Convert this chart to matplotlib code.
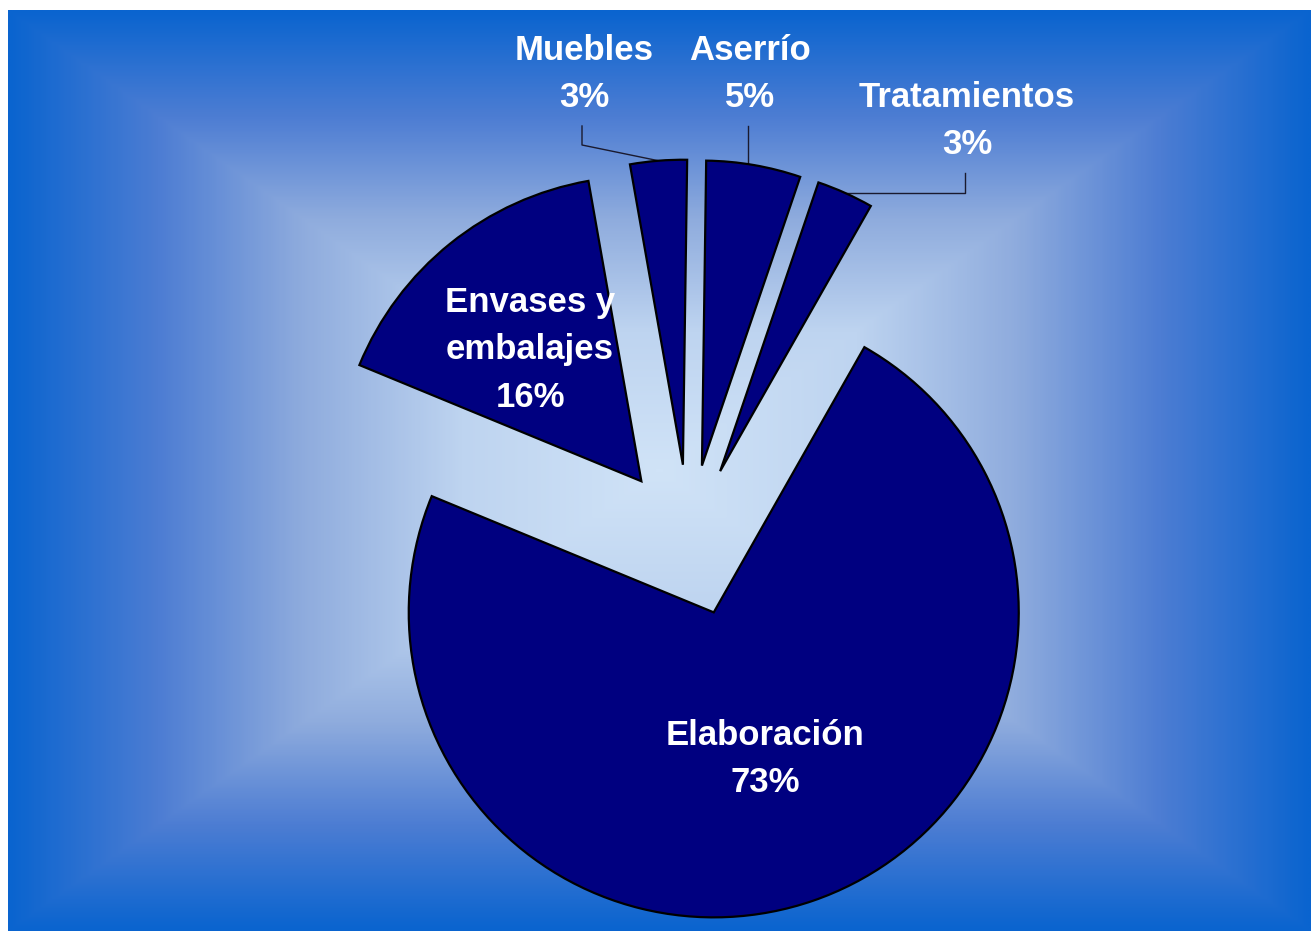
# Pie chart: share of wood industry activities (exploded navy wedges on a blue box gradient)

import numpy as np
import matplotlib.pyplot as plt
from matplotlib.colors import LinearSegmentedColormap

# data, in counter-clockwise order starting at the right edge of "Elaboración"
categories = ['Tratamientos', 'Aserrío', 'Muebles', 'Envases y\nembalajes', 'Elaboración']
shares = [3, 5, 3, 16, 73]

# figure in pixel units (y up)
W, H = 1311, 931
fig = plt.figure(figsize=(W / 100, H / 100), dpi=100)
fig.patch.set_facecolor('white')
ax = fig.add_axes([0, 0, 1, 1])

# rectangular gradient background: light in the middle, blue at the borders
x0, x1, y0, y1 = 8, W, 0, H - 10
gx = np.linspace(-1, 1, 600)
gy = np.linspace(-1, 1, 430)
XX, YY = np.meshgrid(gx, gy)
t = np.maximum(np.abs(XX), np.abs(YY))
bg_cmap = LinearSegmentedColormap.from_list(
    'bg', [(0, '#d0e3f7'), (0.3, '#bed4f0'), (0.55, '#8eabdd'),
           (0.77, '#4d7dd3'), (1, '#0a64cf')])
ax.imshow(t, cmap=bg_cmap, extent=(x0, x1, y0, y1), origin='lower',
          aspect='auto', zorder=0, interpolation='bilinear')

# the pie (explode is in data units here, i.e. pixels)
R = 305
wedges, _ = ax.pie(shares, explode=[76] * len(shares), startangle=60.4,
                   counterclock=True, center=(689, 390.5), radius=R,
                   colors=['#000080'] * len(shares),
                   wedgeprops=dict(edgecolor='black', linewidth=1.6))
for w in wedges:
    w.set_zorder(2)

font = dict(family='Liberation Sans', weight='bold', size=25, color='white',
            ha='center', va='center', linespacing=1.55, zorder=4)

# labels outside (small slices) with leader lines
outside = {
    'Muebles': dict(pos=(584, 857), start=805, knee=786),
    'Aserrío': dict(pos=(750, 857), start=805, knee=None),
    'Tratamientos': dict(pos=(967, 810), start=758, knee=None),
}
# labels inside (big slices)
inside = {
    'Envases y\nembalajes': (530, 581),
    'Elaboración': (765, 172),
}

for w, name, val in zip(wedges, categories, shares):
    label = f'{name}\n{val}%'
    if name in outside:
        o = outside[name]
        ax.text(*o['pos'], label, **font)
        mid = np.deg2rad((w.theta1 + w.theta2) / 2)
        px = w.center[0] + w.r * np.cos(mid)
        py = w.center[1] + w.r * np.sin(mid)
        lx = o['pos'][0] - 2
        knee = o['knee'] if o['knee'] is not None else py
        ax.plot([lx, lx, px], [o['start'], knee, py], color='#1a1a2e',
                lw=1.0, zorder=1)
    else:
        ax.text(*inside[name], label, **font)

ax.set_xlim(0, W)
ax.set_ylim(0, H)
ax.set_aspect('auto')
ax.axis('off')

fig.savefig('out.png', dpi=100)
